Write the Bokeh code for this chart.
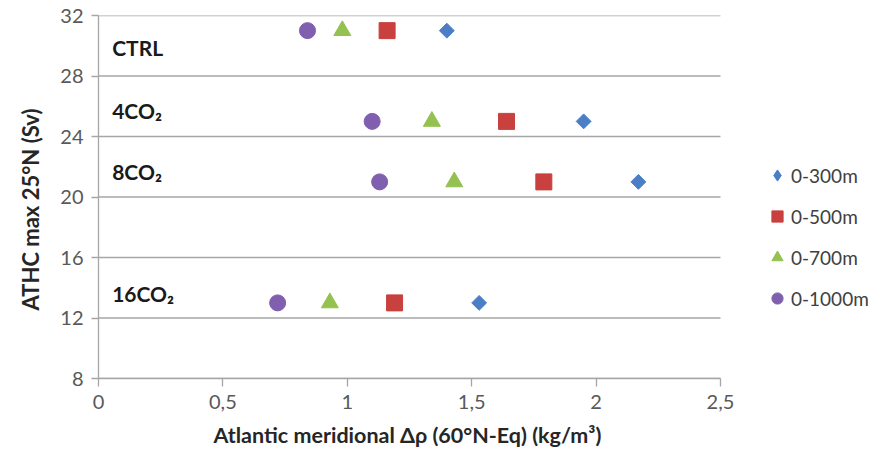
import math
from bokeh.plotting import figure
from bokeh.models import FixedTicker, Legend, LegendItem, Label, Title
from bokeh.embed import file_html
from bokeh.resources import INLINE

# Scenario rows: ATHC max at 25°N (Sv)
scenarios = ["CTRL", "4CO₂", "8CO₂", "16CO₂"]
athc_max = [31, 25, 21, 13]
label_y = [29.9, 25.7, 21.7, 13.6]

# Meridional density difference for each depth layer (kg/m3)
drho_0_300 = [1.40, 1.95, 2.17, 1.53]
drho_0_500 = [1.16, 1.64, 1.79, 1.19]
drho_0_700 = [0.98, 1.34, 1.43, 0.93]
drho_0_1000 = [0.84, 1.10, 1.13, 0.72]

x_ticks = [0, 0.5, 1, 1.5, 2, 2.5]
x_tick_labels = ["0", "0,5", "1", "1,5", "2", "2,5"]
y_ticks = [8, 12, 16, 20, 24, 28, 32]

X_MIN, X_MAX = 0, 2.5
FONT = "Lato"
TICK_COLOR = "#595959"
GRID_COLOR = "#a6a6a6"
BLUE, RED, GREEN, PURPLE = "#4a7ec6", "#c8413f", "#94c150", "#7f5fae"

# The frame runs on past 2.5 so the legend can sit inside it on the right;
# the axis line and gridlines stop at 2.5.
p = figure(
    width=874, height=459,
    x_range=(X_MIN, 3.111), y_range=(8, 32),
    output_backend="svg", toolbar_location=None,
    min_border_left=98, min_border_right=2,
    min_border_top=15, min_border_bottom=81,
)
p.outline_line_color = None
p.background_fill_color = "white"
p.border_fill_color = "white"

# Axes
p.xaxis.ticker = FixedTicker(ticks=x_ticks)
p.xaxis.major_label_overrides = {t: s for t, s in zip(x_ticks, x_tick_labels)}
p.xaxis.bounds = (X_MIN, X_MAX)
p.yaxis.ticker = FixedTicker(ticks=y_ticks)
for ax in (p.xaxis, p.yaxis):
    ax.axis_line_color = GRID_COLOR
    ax.axis_line_width = 1.3
    ax.major_tick_line_color = GRID_COLOR
    ax.major_tick_line_width = 1.3
    ax.major_tick_in = 0
    ax.minor_tick_line_color = None
    ax.major_label_text_font = FONT
    ax.major_label_text_font_size = "20px"
    ax.major_label_text_color = TICK_COLOR
p.xaxis.major_tick_out = 8
p.yaxis.major_tick_out = 7
p.xaxis.major_label_standoff = 8
p.yaxis.major_label_standoff = 8

# Axis titles as side titles, placed along the 0..2.5 span and the plot height
p.add_layout(Title(text="Atlantic meridional Δρ (60°N-Eq) (kg/m³)",
                   align="left", offset=115, standoff=17,
                   text_font=FONT, text_font_style="bold",
                   text_font_size="21.5px", text_color="#262626"), "below")
p.add_layout(Title(text="ATHC max  25°N (Sv)", align="left", offset=68,
                   standoff=27, text_font=FONT, text_font_style="bold",
                   text_font_size="22px", text_color="#262626"), "left")

# Horizontal gridlines only, drawn across the 0..2.5 span
p.xgrid.grid_line_color = None
p.ygrid.grid_line_color = None
p.segment(x0=[X_MIN] * len(y_ticks), x1=[X_MAX] * len(y_ticks),
          y0=y_ticks, y1=y_ticks, line_color=GRID_COLOR, line_width=1.3)

# Series markers
r300 = p.scatter(drho_0_300, athc_max, marker="square", angle=math.pi / 4,
                 size=10.5, color=BLUE, line_color=BLUE)
r500 = p.scatter(drho_0_500, athc_max, marker="square", size=16,
                 color=RED, line_color=RED)
r700 = p.scatter(drho_0_700, athc_max, marker="triangle", size=17,
                 color=GREEN, line_color=GREEN)
r1000 = p.scatter(drho_0_1000, athc_max, marker="circle", size=16,
                  color=PURPLE, line_color=PURPLE)
# legend swatch for the 0-300m series (legend glyphs are drawn unrotated)
r300_key = p.scatter([math.nan], [math.nan], marker="diamond",
                     color=BLUE, line_color=BLUE)

# Scenario labels
for name, yy in zip(scenarios, label_y):
    p.add_layout(Label(x=0.055, y=yy, text=name, text_font=FONT,
                       text_font_style="bold", text_font_size="21px",
                       text_color="#1a1a1a", text_baseline="middle"))

legend = Legend(
    items=[
        LegendItem(label="0-300m", renderers=[r300_key]),
        LegendItem(label="0-500m", renderers=[r500]),
        LegendItem(label="0-700m", renderers=[r700]),
        LegendItem(label="0-1000m", renderers=[r1000]),
    ],
    location=(665, 66),
    glyph_width=28, glyph_height=28,
    label_height=28, label_standoff=-2,
    spacing=13, padding=0, margin=0,
    border_line_color=None, background_fill_alpha=0,
    label_text_font=FONT, label_text_font_size="19px",
    label_text_color="#404040",
)
p.add_layout(legend)

open("out.html", "w").write(file_html(p, INLINE))
